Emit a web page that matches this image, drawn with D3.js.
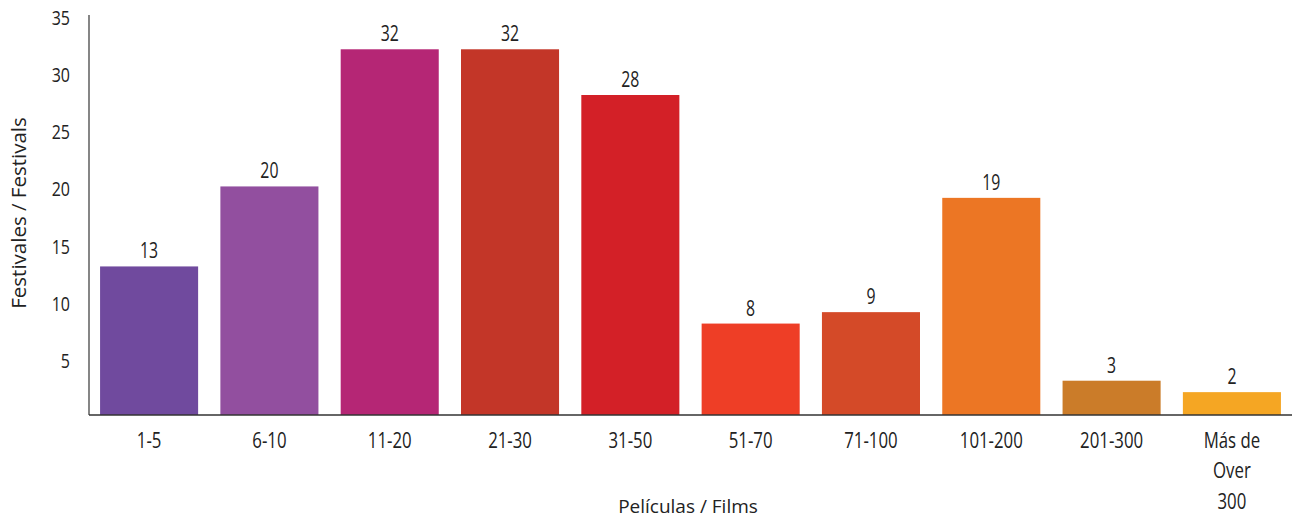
<!DOCTYPE html>
<html><head><meta charset="utf-8">
<script src="https://cdn.jsdelivr.net/npm/d3@7"></script>
<style>body{margin:0;background:#fff;} text{font-family:"Open Sans",sans-serif;}</style>
</head><body><svg id="c" width="1298" height="523"></svg>
<script>
const categories = ["1-5","6-10","11-20","21-30","31-50","51-70","71-100","101-200","201-300","Más de|Over|300"];
const values = [13,20,32,32,28,8,9,19,3,2];
const colors = ["#704a9e","#924f9f","#b52675","#c33628","#d32027","#ee3e26","#d44a28","#ec7624","#cb7c29","#f5a623"];
const yTicks = [5,10,15,20,25,30,35];

const svg = d3.select("#c");
const x0 = 89, x1 = 1292, yBase = 415, yTop = 15;
const x = d3.scaleBand().domain(categories).range([x0, x1]).paddingInner(0.185).paddingOuter(0.092);
const y = d3.scaleLinear().domain([0, 35]).range([yBase, yTop]);

const cond = (cx, s) => `translate(${cx},0) scale(${s},1) translate(${-cx},0)`;

svg.selectAll("rect.bar").data(values).join("rect")
  .attr("class","bar")
  .attr("x",(d,i)=>x(categories[i]))
  .attr("width",x.bandwidth())
  .attr("y",d=>y(d))
  .attr("height",d=>y(0)-y(d))
  .attr("fill",(d,i)=>colors[i]);

svg.selectAll("text.val").data(values).join("text")
  .attr("class","val")
  .attr("x",(d,i)=>x(categories[i])+x.bandwidth()/2)
  .attr("y",d=>y(d)-8)
  .attr("text-anchor","middle")
  .attr("font-size",22).attr("fill","#222")
  .attr("transform",(d,i)=>cond(x(categories[i])+x.bandwidth()/2, 0.72))
  .text(d=>d);

// axes lines
svg.append("line").attr("x1",x0).attr("x2",x0).attr("y1",yTop).attr("y2",yBase).attr("stroke","#444").attr("stroke-width",1.3);
svg.append("line").attr("x1",x0).attr("x2",x1).attr("y1",yBase).attr("y2",yBase).attr("stroke","#333").attr("stroke-width",1.3);

// y tick labels
svg.selectAll("text.yt").data(yTicks).join("text")
  .attr("class","yt")
  .attr("x",70).attr("y",d=>y(d)+10)
  .attr("text-anchor","end")
  .attr("font-size",20).attr("fill","#222")
  .attr("transform",cond(70, 0.8))
  .text(d=>d);

// x tick labels
categories.forEach((c,i)=>{
  const cx = x(c)+x.bandwidth()/2;
  const lines = c.split("|");
  const t = svg.append("text").attr("text-anchor","middle").attr("font-size",21).attr("fill","#222")
    .attr("transform",cond(cx, 0.8));
  lines.forEach((l,j)=>t.append("tspan").attr("x",cx).attr("y",448+j*30.5).text(l));
});

svg.append("text").attr("x",688).attr("y",513).attr("text-anchor","middle").attr("font-size",19).attr("fill","#222")
  .text("Películas / Films");
svg.append("text").attr("transform","translate(26,213) rotate(-90)").attr("text-anchor","middle").attr("font-size",20.5).attr("fill","#222")
  .text("Festivales / Festivals");
</script></body></html>
